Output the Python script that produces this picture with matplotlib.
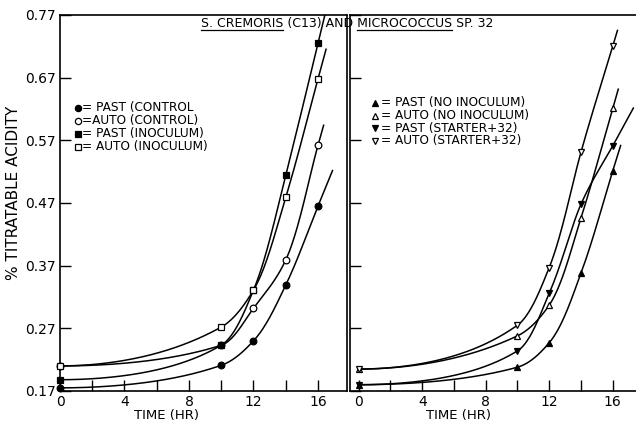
import numpy as np
import matplotlib.pyplot as plt
from matplotlib.ticker import MultipleLocator

# Acidez titulável (%) ao longo do tempo (h)
time_hr = [0, 10, 12, 14, 16]

# painel esquerdo: S. cremoris (C13)
past_control = [0.175, 0.211, 0.250, 0.339, 0.465]
auto_control = [0.210, 0.243, 0.302, 0.379, 0.562]
past_inoculum = [0.188, 0.243, 0.331, 0.514, 0.725]
auto_inoculum = [0.210, 0.272, 0.331, 0.479, 0.668]

# painel direito: Micrococcus sp. 32
past_no_inoc = [0.180, 0.208, 0.247, 0.358, 0.521]
auto_no_inoc = [0.205, 0.258, 0.307, 0.446, 0.621]
past_starter = [0.180, 0.234, 0.326, 0.468, 0.561]
auto_starter = [0.205, 0.275, 0.367, 0.551, 0.720]

y_ticks = [0.17, 0.27, 0.37, 0.47, 0.57, 0.67, 0.77]

plt.rcParams['font.family'] = 'DejaVu Sans'

BASE = 0.15  # as curvas são suavizadas em log(y - BASE)


def pchip(x, y, xs, d_end):
    # cúbica monótona (Fritsch-Carlson) com derivada final imposta
    x = np.asarray(x, float)
    y = np.asarray(y, float)
    h = np.diff(x)
    delta = np.diff(y) / h
    n = len(x)
    d = np.zeros(n)
    for k in range(1, n - 1):
        if delta[k - 1] * delta[k] > 0:
            w1 = 2 * h[k] + h[k - 1]
            w2 = h[k] + 2 * h[k - 1]
            d[k] = (w1 + w2) / (w1 / delta[k - 1] + w2 / delta[k])
    d[0] = ((2 * h[0] + h[1]) * delta[0] - h[0] * delta[1]) / (h[0] + h[1])
    if d[0] * delta[0] <= 0:
        d[0] = 0
    d[-1] = d_end
    idx = np.clip(np.searchsorted(x, xs) - 1, 0, n - 2)
    t = (xs - x[idx]) / h[idx]
    h00 = 2 * t**3 - 3 * t**2 + 1
    h10 = t**3 - 2 * t**2 + t
    h01 = -2 * t**3 + 3 * t**2
    h11 = t**3 - t**2
    return (h00 * y[idx] + h10 * h[idx] * d[idx] + h01 * y[idx + 1]
            + h11 * h[idx] * d[idx + 1])


def curve(ax, x, y, marker, filled, tail):
    y = np.asarray(y, float)
    slope = (y[-1] - y[-2]) / (x[-1] - x[-2])
    xs = np.linspace(x[0], x[-1], 300)
    ys = BASE + np.exp(pchip(x, np.log(y - BASE), xs,
                             slope / (y[-1] - BASE)))
    xe = np.linspace(x[-1], x[-1] + tail, 10)
    ye = y[-1] + slope * (xe - x[-1])
    ax.plot(np.r_[xs, xe], np.r_[ys, ye], color='black', lw=1.1, zorder=2)
    ax.plot(x, y, ls='none', marker=marker, ms=4.8,
            mfc='black' if filled else 'white', mec='black', mew=0.9,
            clip_on=False, zorder=3)


fig = plt.figure(figsize=(6.36, 4.21), dpi=100)
ax1 = fig.add_axes([60 / 636, 30 / 421, 287 / 636, 376 / 421])
ax2 = fig.add_axes([350 / 636, 30 / 421, 300 / 636, 376 / 421])

curve(ax1, time_hr, past_control, 'o', True, 0.9)
curve(ax1, time_hr, auto_control, 'o', False, 0.35)
curve(ax1, time_hr, past_inoculum, 's', True, 0.5)
curve(ax1, time_hr, auto_inoculum, 's', False, 0.5)

curve(ax2, time_hr, past_no_inoc, '^', True, 0.5)
curve(ax2, time_hr, auto_no_inoc, '^', False, 0.35)
curve(ax2, time_hr, past_starter, 'v', True, 1.3)
curve(ax2, time_hr, auto_starter, 'v', False, 0.3)

ax1.set_xlim(0, 17.8)
ax2.set_xlim(-0.55, 18.35)
for ax in (ax1, ax2):
    ax.set_ylim(0.17, 0.77)
    ax.set_yticks(y_ticks)
    ax.xaxis.set_major_locator(MultipleLocator(4))
    ax.xaxis.set_minor_locator(MultipleLocator(2))
    ax.tick_params(which='both', direction='in', length=8, width=1,
                   labelsize=10, pad=3)
    for s in ax.spines.values():
        s.set_linewidth(1.2)
    ax.set_xlabel('TIME (HR)', fontsize=9.5)
ax1.set_yticklabels([f'{v:.2f}' for v in y_ticks])
ax2.set_yticklabels([])
ax2.spines['right'].set_visible(False)
ax1.set_ylabel('% TITRATABLE ACIDITY', fontsize=11)
ax1.yaxis.set_label_coords(-0.137, 0.527)
ax1.xaxis.set_label_coords(0.37, -0.047)
ax2.xaxis.set_label_coords(0.36, -0.047)

# legendas escritas à mão dentro de cada painel
legend_left = [('o', True, '= PAST (CONTROL'),
               ('o', False, '=AUTO (CONTROL)'),
               ('s', True, '= PAST (INOCULUM)'),
               ('s', False, '= AUTO (INOCULUM)')]
for i, (m, f, txt) in enumerate(legend_left):
    yy = 0.753 - i * 0.0346
    ax1.plot(0.064, yy, marker=m, ms=4.5, mfc='black' if f else 'white',
             mec='black', mew=0.9, transform=ax1.transAxes)
    ax1.text(0.078, yy, txt, fontsize=8.7, va='center', transform=ax1.transAxes)

legend_right = [('^', True, '= PAST (NO INOCULUM)'),
                ('^', False, '= AUTO (NO INOCULUM)'),
                ('v', True, '= PAST (STARTER+32)'),
                ('v', False, '= AUTO (STARTER+32)')]
for i, (m, f, txt) in enumerate(legend_right):
    yy = 0.766 - i * 0.0337
    ax2.plot(0.083, yy, marker=m, ms=5, mfc='black' if f else 'white',
             mec='black', mew=0.9, transform=ax2.transAxes)
    ax2.text(0.102, yy, txt, fontsize=8.7, va='center', transform=ax2.transAxes)

# título com os nomes dos organismos sublinhados
title = 'S. CREMORIS (C13) AND MICROCOCCUS SP. 32'
t = fig.text(347 / 636, 1 - 23 / 421, title, ha='center', va='center',
             fontsize=9)
fig.canvas.draw()
renderer = fig.canvas.get_renderer()
x0 = t.get_window_extent(renderer).x0


def width(s):
    tmp = fig.text(0, 0, s, fontsize=9)
    w = tmp.get_window_extent(renderer).width
    tmp.remove()
    return w


W = fig.bbox.width
uy = 1 - 30 / 421
spans = [(0, width('S. CREMORIS')),
         (width('S. CREMORIS (C13) AND MICROCOCCUS') - width('MICROCOCCUS'),
          width('S. CREMORIS (C13) AND MICROCOCCUS'))]
for a, b in spans:
    fig.add_artist(plt.Line2D([(x0 + a) / W, (x0 + b) / W], [uy, uy],
                              color='black', lw=0.9))

fig.savefig('out.png', dpi=100)
